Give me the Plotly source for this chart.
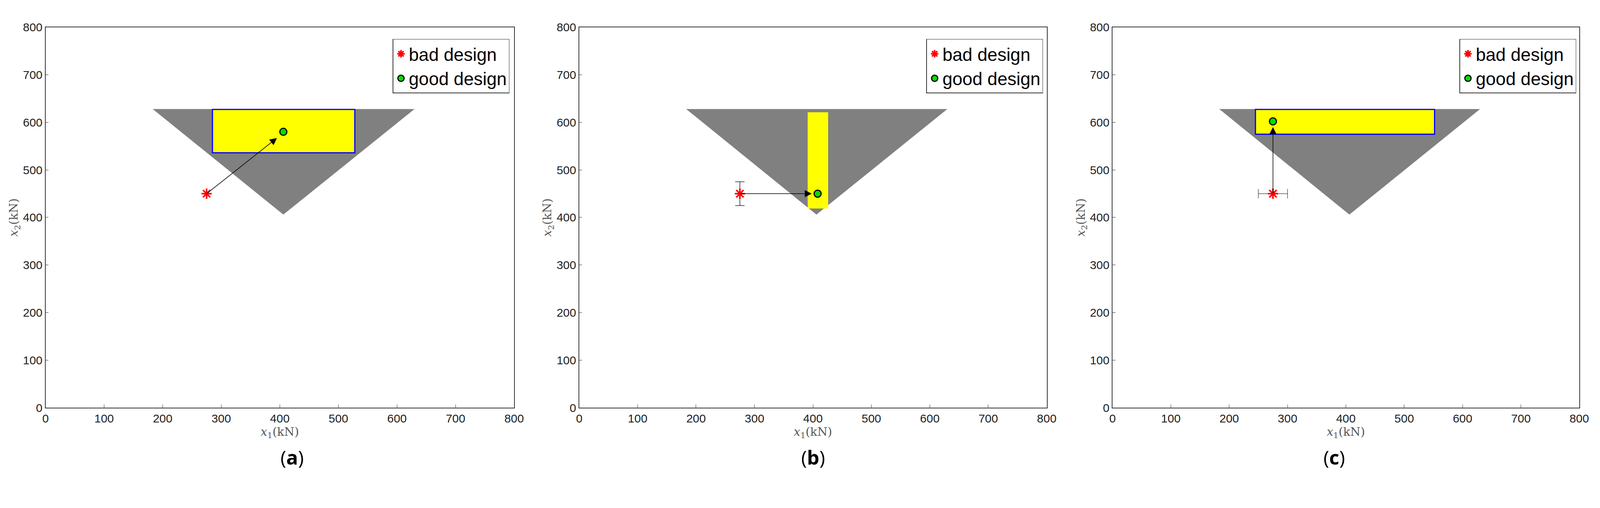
import plotly.graph_objects as go

W, H = 4342, 1301

# feasible region (triangle)
tri_x = [183, 630, 406]
tri_y = [628, 628, 406]

# per-panel data
panels = ["a", "b", "c"]
bad_x = [275, 275, 275]
bad_y = [450, 450, 450]
good_x = [406, 408, 275]
good_y = [580, 450, 602]
rect_x0 = [285, 392, 245]
rect_x1 = [528, 425, 552]
rect_y0 = [536, 420, 575]
rect_y1 = [627, 620, 627]
rect_border = [True, False, True]
arrow_tip_x = [395, 398, 275]
arrow_tip_y = [567, 450, 590]
# error bars on the bad design: (dx, dy)
err_x = [0, 0, 25]
err_y = [0, 25, 0]

ticks = [0, 100, 200, 300, 400, 500, 600, 700, 800]

x_domains = [[116 / W, 1398 / W], [1576 / W, 2855 / W], [3035 / W, 4312 / W]]
y_domain = [1 - 1055 / H, 1 - 55 / H]

fig = go.Figure()
tick_font = dict(family="Liberation Sans, Arial", size=30, color="#222")
title_font = dict(family="DejaVu Serif, serif", size=30, color="#555")

for i, p in enumerate(panels):
    n = "" if i == 0 else str(i + 1)
    xa, ya = "x" + n, "y" + n
    leg = "legend" + n
    path = "M %d %d L %d %d L %d %d Z" % (tri_x[0], tri_y[0], tri_x[1], tri_y[1], tri_x[2], tri_y[2])
    fig.add_shape(type="path", path=path, xref=xa, yref=ya, fillcolor="#808080",
                  line=dict(width=0), layer="below")
    fig.add_shape(type="rect", x0=rect_x0[i], x1=rect_x1[i], y0=rect_y0[i], y1=rect_y1[i],
                  xref=xa, yref=ya, fillcolor="#ffff00", layer="below",
                  line=dict(color="#0000ff" if rect_border[i] else "#ffff00", width=3))
    if err_x[i] or err_y[i]:
        fig.add_trace(go.Scatter(
            x=[bad_x[i]], y=[bad_y[i]], mode="markers", marker=dict(size=1, opacity=0),
            error_x=dict(type="constant", value=err_x[i], visible=bool(err_x[i]),
                         color="#555", thickness=1.5, width=12),
            error_y=dict(type="constant", value=err_y[i], visible=bool(err_y[i]),
                         color="#222", thickness=1.5, width=12),
            showlegend=False, xaxis=xa, yaxis=ya, hoverinfo="skip"))
    fig.add_annotation(x=arrow_tip_x[i], y=arrow_tip_y[i], ax=bad_x[i], ay=bad_y[i],
                       xref=xa, yref=ya, axref=xa, ayref=ya, text="", showarrow=True,
                       arrowhead=2, arrowsize=2.4, arrowwidth=1.5, arrowcolor="black")
    fig.add_trace(go.Scatter(x=[bad_x[i]], y=[bad_y[i]], mode="markers", name="bad design",
                             marker=dict(symbol="asterisk-open", size=22, color="red",
                                         line=dict(color="red", width=4)),
                             xaxis=xa, yaxis=ya, legend=leg))
    fig.add_trace(go.Scatter(x=[good_x[i]], y=[good_y[i]], mode="markers", name="good design",
                             marker=dict(symbol="circle", size=18, color="#00e000",
                                         line=dict(color="black", width=3)),
                             xaxis=xa, yaxis=ya, legend=leg))
    axis_common = dict(range=[0, 800], tickvals=ticks, showgrid=False, zeroline=False,
                       showline=True, linecolor="#333", linewidth=1.5, mirror=True,
                       ticks="inside", ticklen=8, tickcolor="#333", tickfont=tick_font)
    fig.update_layout({
        "xaxis" + n: dict(domain=x_domains[i], anchor=ya,
                          title=dict(text="<i>x</i><sub>1</sub>(kN)", font=title_font, standoff=2),
                          **axis_common),
        "yaxis" + n: dict(domain=y_domain, anchor=xa,
                          title=dict(text="<i>x</i><sub>2</sub>(kN)", font=title_font, standoff=4),
                          **axis_common),
        leg: dict(x=x_domains[i][0] + (1385 - 116) / W, xanchor="right",
                  y=1 - 86 / H, yanchor="top", bordercolor="#333", borderwidth=1.5,
                  bgcolor="white", itemsizing="trace", tracegroupgap=4,
                  font=dict(family="Liberation Sans, Arial", size=46, color="black")),
    })
    fig.add_annotation(x=(x_domains[i][0] + x_domains[i][1]) / 2, y=1 - 1222 / H,
                       xref="paper", yref="paper", text="(<b>%s</b>)" % p, showarrow=False,
                       font=dict(family="Open Sans", size=50, color="black"))

fig.update_layout(autosize=True, margin=dict(l=0, r=0, t=0, b=0),
                  plot_bgcolor="white", paper_bgcolor="white")
fig.write_html("out.html", default_width="100vw", default_height="100vh",
               config={"displayModeBar": False})

# drop the browser's default body margin so the figure fills the window exactly
with open("out.html", encoding="utf-8") as f:
    html = f.read()
html = html.replace("<body>", '<body style="margin:0;overflow:hidden">', 1)
with open("out.html", "w", encoding="utf-8") as f:
    f.write(html)
